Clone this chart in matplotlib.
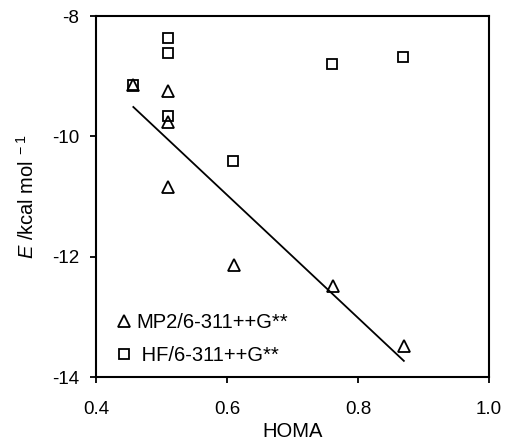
import numpy as np
import matplotlib
matplotlib.use("Agg")
import matplotlib.pyplot as plt

plt.rcParams['font.family'] = ['Liberation Sans', 'DejaVu Sans']
plt.rcParams['mathtext.fontset'] = 'custom'
plt.rcParams['mathtext.rm'] = 'Liberation Sans'
plt.rcParams['mathtext.it'] = 'Liberation Sans:italic'

# Data
homa_mp2 = [0.457, 0.51, 0.51, 0.51, 0.611, 0.762, 0.870]
e_mp2 = [-9.15, -9.25, -9.77, -10.84, -12.14, -12.49, -13.48]
homa_hf = [0.457, 0.51, 0.51, 0.51, 0.609, 0.761, 0.869]
e_hf = [-9.15, -8.37, -8.62, -9.66, -10.41, -8.80, -8.68]
label_mp2 = "MP2/6-311++G**"
label_hf = " HF/6-311++G**"
x_ticks = [0.4, 0.6, 0.8, 1.0]
y_ticks = [-14, -12, -10, -8]

fig = plt.figure(figsize=(5.05, 4.41), dpi=100)
ax = fig.add_axes([96 / 505, 1 - 377 / 441, 393 / 505, 361 / 441])

ax.plot(homa_mp2, e_mp2, linestyle='none', marker='^', markersize=8,
        markerfacecolor='white', markeredgecolor='black', markeredgewidth=1.3,
        label=label_mp2)
ax.plot(homa_hf, e_hf, linestyle='none', marker='s', markersize=7.5,
        markerfacecolor='none', markeredgecolor='black', markeredgewidth=1.3,
        label=label_hf)

# linear trend of MP2 data
slope, intercept = np.polyfit(homa_mp2, e_mp2, 1)
xs = np.array([min(homa_mp2), max(homa_mp2)])
ax.plot(xs, slope * xs + intercept, color='black', linewidth=1.3)

ax.set_xlim(0.4, 1.0)
ax.set_ylim(-14, -8)
ax.set_xticks(x_ticks)
ax.set_xticklabels([f"{t:.1f}" for t in x_ticks])
ax.set_yticks(y_ticks)
ax.set_yticklabels([f"{t:d}" for t in y_ticks])
ax.tick_params(direction='out', length=4, width=1.3, labelsize=13.5)
ax.tick_params(axis='x', pad=13)
ax.tick_params(axis='y', pad=8)
for s in ax.spines.values():
    s.set_linewidth(1.5)

ax.set_xlabel("HOMA", fontsize=14.5, labelpad=3)
ax.set_ylabel(r"$\mathit{E}$ /kcal mol$^{\ -1}$", fontsize=14.5, labelpad=10)

ax.legend(loc='lower left', bbox_to_anchor=(0.045, 0.033), frameon=False,
          fontsize=14.5, handletextpad=0.12, handlelength=1.0,
          labelspacing=0.68, borderaxespad=0.0, borderpad=0.0)

fig.savefig("out.png", dpi=100)
